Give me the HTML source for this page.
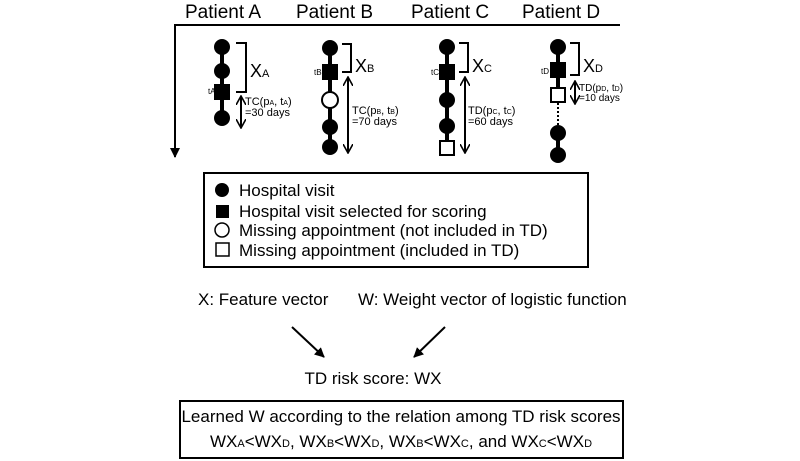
<!DOCTYPE html>
<html><head><style>body{margin:0;background:#fff}svg{display:block}text{font-family:"Liberation Sans",Arial,sans-serif;fill:#000}</style></head>
<body>
<svg width="800" height="461" viewBox="0 0 800 461" xmlns="http://www.w3.org/2000/svg">
<defs><marker id="ah" markerWidth="10" markerHeight="10" refX="8" refY="5" orient="auto" markerUnits="userSpaceOnUse"><path d="M0,0 L9,5 L0,10" fill="none" stroke="#000" stroke-width="1.6"/></marker>
<marker id="at" markerWidth="10" markerHeight="10" refX="9" refY="5" orient="auto" markerUnits="userSpaceOnUse"><path d="M0,0 L10,5 L0,10 Z" fill="#000"/></marker></defs>
<g font-size="19">
<text x="185" y="18">Patient A</text><text x="296" y="18">Patient B</text><text x="411" y="18">Patient C</text><text x="522" y="18">Patient D</text>
</g>
<line x1="174" y1="25" x2="620" y2="25" stroke="#000" stroke-width="2"/>
<line x1="175" y1="25" x2="175" y2="157" stroke="#000" stroke-width="2" marker-end="url(#at)"/>
<!-- A -->
<line x1="222" y1="47" x2="222" y2="118" stroke="#000" stroke-width="4"/>
<circle cx="222" cy="47" r="8"/><circle cx="222" cy="71" r="8"/><rect x="214" y="84" width="16" height="16"/><circle cx="222" cy="118" r="8"/>
<path d="M236,43 H246 V92 H236" fill="none" stroke="#000" stroke-width="2"/>
<text x="250" y="77" font-size="18">X<tspan font-size="11">A</tspan></text>
<text x="208" y="94" font-size="8">tA</text>
<line x1="241" y1="110" x2="241" y2="97" stroke="#000" stroke-width="2" marker-end="url(#ah)"/><line x1="241" y1="110" x2="241" y2="127" stroke="#000" stroke-width="2" marker-end="url(#ah)"/>
<text x="245" y="105" font-size="11">TC(p<tspan font-size="7">A</tspan>, t<tspan font-size="7">A</tspan>)</text><text x="245" y="116" font-size="11">=30 days</text>
<!-- B -->
<line x1="330" y1="48" x2="330" y2="147" stroke="#000" stroke-width="4"/>
<circle cx="330" cy="48" r="8"/><rect x="322" y="64" width="16" height="16"/><circle cx="330" cy="100" r="8" fill="#fff" stroke="#000" stroke-width="2"/><circle cx="330" cy="127" r="8"/><circle cx="330" cy="147" r="8"/>
<path d="M342,44 H351 V72 H342" fill="none" stroke="#000" stroke-width="2"/>
<text x="355" y="72" font-size="18">X<tspan font-size="11">B</tspan></text>
<text x="314" y="75" font-size="8">tB</text>
<line x1="348" y1="115" x2="348" y2="78" stroke="#000" stroke-width="2" marker-end="url(#ah)"/><line x1="348" y1="115" x2="348" y2="152" stroke="#000" stroke-width="2" marker-end="url(#ah)"/>
<text x="352" y="114" font-size="11">TC(p<tspan font-size="7">B</tspan>, t<tspan font-size="7">B</tspan>)</text><text x="352" y="125" font-size="11">=70 days</text>
<!-- C -->
<line x1="447" y1="47" x2="447" y2="147" stroke="#000" stroke-width="4"/>
<circle cx="447" cy="47" r="8"/><rect x="439" y="64" width="16" height="16"/><circle cx="447" cy="100" r="8"/><circle cx="447" cy="126" r="8"/><rect x="440" y="141" width="14" height="14" fill="#fff" stroke="#000" stroke-width="2"/>
<path d="M459,43 H468 V72 H459" fill="none" stroke="#000" stroke-width="2"/>
<text x="472" y="72" font-size="18">X<tspan font-size="11">C</tspan></text>
<text x="431" y="75" font-size="8">tC</text>
<line x1="465" y1="115" x2="465" y2="78" stroke="#000" stroke-width="2" marker-end="url(#ah)"/><line x1="465" y1="115" x2="465" y2="152" stroke="#000" stroke-width="2" marker-end="url(#ah)"/>
<text x="468" y="114" font-size="11">TD(p<tspan font-size="7">C</tspan>, t<tspan font-size="7">C</tspan>)</text><text x="468" y="125" font-size="11">=60 days</text>
<!-- D -->
<line x1="558" y1="47" x2="558" y2="88" stroke="#000" stroke-width="4"/>
<line x1="558" y1="103" x2="558" y2="126" stroke="#000" stroke-width="2" stroke-dasharray="2,2"/>
<line x1="558" y1="133" x2="558" y2="155" stroke="#000" stroke-width="4"/>
<circle cx="558" cy="47" r="8"/><rect x="550" y="62" width="16" height="16"/><rect x="551" y="88" width="14" height="14" fill="#fff" stroke="#000" stroke-width="2"/><circle cx="558" cy="133" r="8"/><circle cx="558" cy="155" r="8"/>
<path d="M570,43 H579 V75 H570" fill="none" stroke="#000" stroke-width="2"/>
<text x="583" y="72" font-size="18">X<tspan font-size="11">D</tspan></text>
<text x="541" y="74" font-size="8">tD</text>
<line x1="575" y1="92" x2="575" y2="82" stroke="#000" stroke-width="2" marker-end="url(#ah)"/><line x1="575" y1="92" x2="575" y2="103" stroke="#000" stroke-width="2" marker-end="url(#ah)"/>
<text x="579" y="91" font-size="10">TD(p<tspan font-size="7">D</tspan>, t<tspan font-size="7">D</tspan>)</text><text x="579" y="101" font-size="10">=10 days</text>
<!-- legend -->
<rect x="204" y="173" width="384" height="94" fill="none" stroke="#000" stroke-width="2"/>
<circle cx="222" cy="190" r="7"/><rect x="216" y="205" width="13" height="13"/><circle cx="222" cy="230" r="7" fill="#fff" stroke="#000" stroke-width="1.5"/><rect x="216" y="243" width="13" height="13" fill="#fff" stroke="#000" stroke-width="1.5"/>
<g font-size="17"><text x="239" y="196">Hospital visit</text><text x="239" y="217">Hospital visit selected for scoring</text><text x="239" y="236">Missing appointment (not included in TD)</text><text x="239" y="256">Missing appointment (included in TD)</text>
<text x="198" y="305">X: Feature vector</text><text x="358" y="305">W: Weight vector of logistic function</text>
<text x="373" y="384" text-anchor="middle">TD risk score: WX</text>
<text x="401" y="422" text-anchor="middle">Learned W according to the relation among TD risk scores</text>
<text x="401" y="447" text-anchor="middle">WX<tspan font-size="11">A</tspan>&lt;WX<tspan font-size="11">D</tspan>, WX<tspan font-size="11">B</tspan>&lt;WX<tspan font-size="11">D</tspan>, WX<tspan font-size="11">B</tspan>&lt;WX<tspan font-size="11">C</tspan>, and WX<tspan font-size="11">C</tspan>&lt;WX<tspan font-size="11">D</tspan></text></g>
<line x1="292" y1="327" x2="324" y2="357" stroke="#000" stroke-width="2" marker-end="url(#at)"/>
<line x1="445" y1="327" x2="414" y2="357" stroke="#000" stroke-width="2" marker-end="url(#at)"/>
<rect x="180" y="401" width="443" height="57" fill="none" stroke="#000" stroke-width="2"/>
</svg>
</body></html>
